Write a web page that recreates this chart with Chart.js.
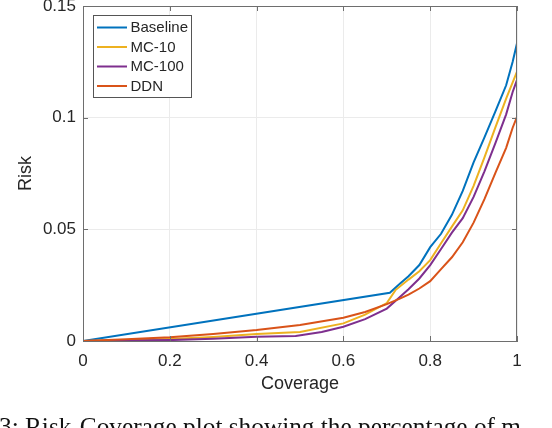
<!DOCTYPE html>
<html>
<head>
<meta charset="utf-8">
<script src="https://cdn.jsdelivr.net/npm/chart.js@4/dist/chart.umd.min.js"></script>
<style>
  body { margin: 0; background: #fff; overflow: hidden; }
  #wrap { position: relative; width: 552px; height: 428px; overflow: hidden; }
  #caption {
    position: absolute; left: -1px; top: 414px; white-space: nowrap;
    font-family: "Liberation Serif", "Times New Roman", serif; font-size: 25.3px;
    line-height: 24px; color: #111;
  }
</style>
</head>
<body>
<div id="wrap">
  <canvas id="riskChart" width="552" height="428"></canvas>
  <div id="caption">3: Risk-Coverage plot showing the percentage of m</div>
</div>
<script>
// series names / colours
var seriesNames = ["Baseline", "MC-10", "MC-100", "DDN"];
var seriesColors = ["#0072BD", "#EDB120", "#7E2F8E", "#D95319"];

// coverage (x) and risk (y) for every series
var baselineCov  = [0, 0.707, 0.73, 0.75, 0.775, 0.8, 0.825, 0.85, 0.875, 0.9, 0.925, 0.95, 0.975, 0.99, 1.0];
var baselineRisk = [0, 0.0216, 0.0256, 0.029, 0.034, 0.042, 0.048, 0.0565, 0.0672, 0.080, 0.0912, 0.1027, 0.1145, 0.125, 0.1333];

var mc10Cov  = [0, 0.1, 0.2, 0.3, 0.4, 0.5, 0.6, 0.65, 0.7, 0.72, 0.75, 0.775, 0.8, 0.825, 0.85, 0.875, 0.9, 0.925, 0.95, 0.975, 1.0];
var mc10Risk = [0, 0.0004, 0.0009, 0.0018, 0.0031, 0.0040, 0.0079, 0.0118, 0.0170, 0.0228, 0.0275, 0.0312, 0.0362, 0.0438, 0.0512, 0.0585, 0.0695, 0.0822, 0.0955, 0.1085, 0.1206];

var mc100Cov  = [0, 0.1, 0.2, 0.3, 0.4, 0.49, 0.55, 0.6, 0.65, 0.7, 0.725, 0.75, 0.775, 0.8, 0.825, 0.85, 0.875, 0.9, 0.925, 0.95, 0.975, 0.99, 1.0];
var mc100Risk = [0, 0.0002, 0.0004, 0.0010, 0.0019, 0.0022, 0.0040, 0.0064, 0.0098, 0.0145, 0.0188, 0.0232, 0.0280, 0.0340, 0.0412, 0.0485, 0.0550, 0.0645, 0.0760, 0.0885, 0.1015, 0.1115, 0.1169];

var ddnCov  = [0, 0.1, 0.2, 0.3, 0.4, 0.5, 0.6, 0.65, 0.7, 0.73, 0.75, 0.775, 0.8, 0.825, 0.85, 0.875, 0.9, 0.925, 0.95, 0.975, 0.99, 1.0];
var ddnRisk = [0, 0.0008, 0.0017, 0.0031, 0.0049, 0.0072, 0.0104, 0.0130, 0.0165, 0.0190, 0.0208, 0.0235, 0.0268, 0.0322, 0.0375, 0.0442, 0.0530, 0.0635, 0.0752, 0.0865, 0.0955, 0.1004];

// axis ticks
var xTickLabels = ["0", "0.2", "0.4", "0.6", "0.8", "1"];
var yTickLabels = ["0", "0.05", "0.1", "0.15"];

var axisColor = "#6e6e6e";
var textColor = "#262626";

function toPoints(xs, ys){
	var pts = [];
	for (let i = 0; i < xs.length; i++) {
		pts.push({x: xs[i], y: ys[i]});
	}
	return pts;
}

var allCov = [baselineCov, mc10Cov, mc100Cov, ddnCov];
var allRisk = [baselineRisk, mc10Risk, mc100Risk, ddnRisk];
var datasets = [];
for (let i = 0; i < seriesNames.length; i++) {
	datasets.push({
		label: seriesNames[i],
		data: toPoints(allCov[i], allRisk[i]),
		borderColor: seriesColors[i],
		borderWidth: 2,
		pointRadius: 0,
		tension: 0,
		fill: false,
		order: seriesNames.length - i   // later series on top, like matlab
	});
}

// box + inward tick marks on all 4 sides, and the legend in the corner
var boxPlugin = {
	id: "box",
	afterDraw: function(chart){
		var ctx = chart.ctx;
		var a = chart.chartArea;
		var xs = chart.scales.x, ys = chart.scales.y;
		ctx.save();
		ctx.strokeStyle = axisColor;
		ctx.lineWidth = 1;
		ctx.beginPath();
		ctx.moveTo(a.left, a.top + 0.5); ctx.lineTo(a.right, a.top + 0.5);
		ctx.moveTo(a.right - 0.5, a.top); ctx.lineTo(a.right - 0.5, a.bottom);
		xs.ticks.forEach(function(t){
			var px = Math.round(xs.getPixelForValue(t.value)) + 0.5;
			ctx.moveTo(px, a.bottom); ctx.lineTo(px, a.bottom - 5);
			ctx.moveTo(px, a.top); ctx.lineTo(px, a.top + 5);
		});
		ys.ticks.forEach(function(t){
			var py = Math.round(ys.getPixelForValue(t.value)) + 0.5;
			ctx.moveTo(a.left, py); ctx.lineTo(a.left + 5, py);
			ctx.moveTo(a.right, py); ctx.lineTo(a.right - 5, py);
		});
		ctx.stroke();

		// legend
		var bx = 93.5, by = 15.5, bw = 98, bh = 82;
		ctx.fillStyle = "#fff";
		ctx.fillRect(bx, by, bw, bh);
		ctx.strokeStyle = "#555";
		ctx.strokeRect(bx, by, bw, bh);
		ctx.font = "15px 'Liberation Sans', Arial, sans-serif";
		ctx.textBaseline = "middle";
		ctx.textAlign = "left";
		chart.data.datasets.forEach(function(ds, i){
			var ly = 27.5 + i * 19.5;
			ctx.strokeStyle = ds.borderColor;
			ctx.lineWidth = 2;
			ctx.beginPath();
			ctx.moveTo(97, ly); ctx.lineTo(127, ly);
			ctx.stroke();
			ctx.fillStyle = textColor;
			ctx.fillText(ds.label, 130.5, ly + 0.5);
		});
		ctx.restore();
	}
};

new Chart(document.getElementById("riskChart"), {
	type: "line",
	data: { datasets: datasets },
	options: {
		responsive: false,
		animation: false,
		layout: { padding: { left: 0, right: 35, top: 6, bottom: 0 } },
		plugins: { legend: { display: false }, tooltip: { enabled: false } },
		scales: {
			x: {
				type: "linear",
				min: 0, max: 1,
				ticks: {
					stepSize: 0.2,
					padding: 10,
					color: textColor,
					font: { family: "'Liberation Sans', Arial, sans-serif", size: 17 },
					callback: function(v, i){ return xTickLabels[i]; }
				},
				grid: { color: "#ebebeb", drawTicks: false },
				border: { color: axisColor },
				title: {
					display: true, text: "Coverage", color: textColor,
					font: { family: "'Liberation Sans', Arial, sans-serif", size: 18 },
					padding: { top: 33, bottom: 33 }
				},
				afterFit: function(s){ s.height = 87; s.paddingLeft = 0; s.paddingRight = 0; }
			},
			y: {
				min: 0, max: 0.15,
				ticks: {
					stepSize: 0.05,
					padding: 7,
					color: textColor,
					font: { family: "'Liberation Sans', Arial, sans-serif", size: 17 },
					callback: function(v, i){ return yTickLabels[i]; }
				},
				grid: { color: "#ebebeb", drawTicks: false },
				border: { color: axisColor },
				title: {
					display: true, text: "Risk", color: textColor,
					font: { family: "'Liberation Sans', Arial, sans-serif", size: 18 },
					padding: { top: 15, bottom: 15 }
				},
				afterFit: function(s){ s.width = 83; s.paddingTop = 0; s.paddingBottom = 0; }
			}
		}
	},
	plugins: [boxPlugin]
});
</script>
</body>
</html>
